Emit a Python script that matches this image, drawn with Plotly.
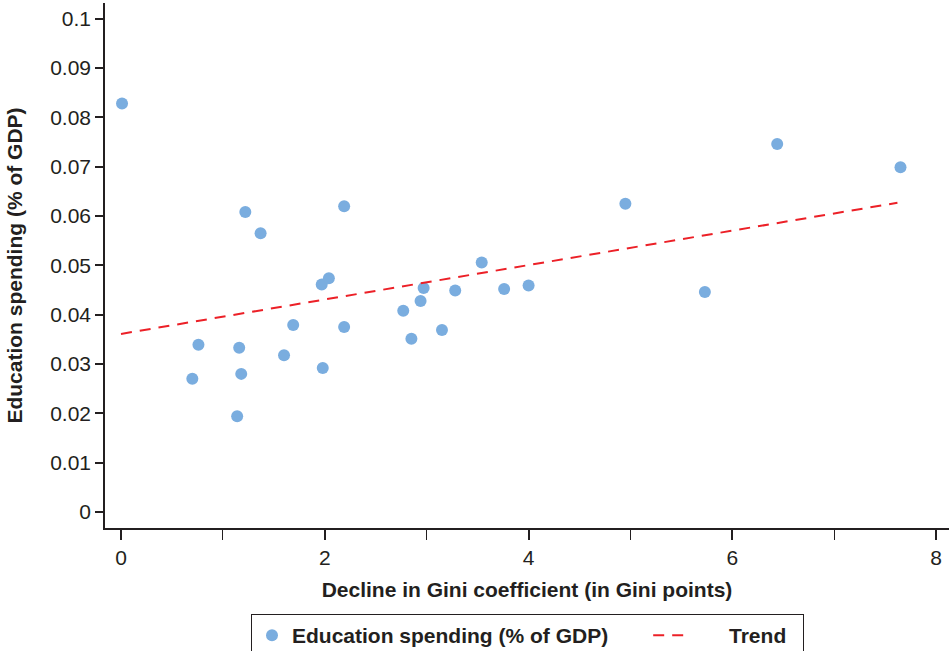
import plotly.graph_objects as go

# 지니계수 하락폭 (x) 과 교육지출 비중 (y)
gini_decline = [0.01, 0.70, 0.76, 1.14, 1.16, 1.18, 1.22, 1.37, 1.60, 1.69,
                1.97, 1.98, 2.04, 2.19, 2.19, 2.77, 2.85, 2.94, 2.97, 3.15,
                3.28, 3.54, 3.76, 4.00, 4.95, 5.73, 6.44, 7.65]
edu_spending = [0.0828, 0.0270, 0.0339, 0.0194, 0.0333, 0.0280, 0.0608, 0.0565,
                0.0318, 0.0379, 0.0461, 0.0292, 0.0474, 0.0620, 0.0375, 0.0408,
                0.0351, 0.0428, 0.0454, 0.0369, 0.0449, 0.0506, 0.0452, 0.0459,
                0.0625, 0.0446, 0.0746, 0.0699]

# 추세선 양 끝점
trend_x = [0.0, 7.62]
trend_y = [0.0361, 0.0627]

x_ticks = [0, 2, 4, 6, 8]
y_ticks = [0, 0.01, 0.02, 0.03, 0.04, 0.05, 0.06, 0.07, 0.08, 0.09, 0.1]
y_ticktext = ['0', '0.01', '0.02', '0.03', '0.04', '0.05', '0.06', '0.07', '0.08', '0.09', '0.1']

font_family = 'Liberation Sans, Arial, sans-serif'
text_color = '#231f20'
nbsp = '\u00a0'

fig = go.Figure()

fig.add_trace(go.Scatter(
    x=gini_decline,
    y=edu_spending,
    mode='markers',
    marker=dict(color='#7aaddf', size=12, line=dict(width=0)),
    name='<b>Education spending (% of GDP)</b>' + nbsp * 6
))

fig.add_trace(go.Scatter(
    x=trend_x,
    y=trend_y,
    mode='lines',
    line=dict(color='#ec2027', width=2, dash='11px,8px'),
    name=nbsp * 7 + '<b>Trend</b>' + nbsp * 2
))

fig.update_layout(
    width=949,
    height=651,
    margin=dict(l=105, r=0, t=3, b=123),
    plot_bgcolor='white',
    paper_bgcolor='white',
    font=dict(family=font_family, size=21, color=text_color),
    showlegend=True,
    legend=dict(
        orientation='h',
        xref='container', x=251 / 949, xanchor='left',
        yref='container', y=1 - 614 / 651, yanchor='top',
        bordercolor='#231f20', borderwidth=1,
        font=dict(size=21, color=text_color),
        itemwidth=30,
        tracegroupgap=0,
    ),
)

fig.update_xaxes(
    range=[-0.157, 8.126],
    tickvals=x_ticks,
    ticks='outside', ticklen=10, tickwidth=1.5, tickcolor='#231f20',
    minor=dict(dtick=1, ticks='outside', ticklen=10, tickwidth=1, tickcolor='#231f20'),
    showline=True, linecolor='#231f20', linewidth=1.5,
    showgrid=False, zeroline=False,
    tickfont=dict(size=21),
    title=dict(text='<b>Decline in Gini coefficient (in Gini points)</b>',
               font=dict(size=21), standoff=14),
)

fig.update_yaxes(
    range=[-0.00325, 0.1032],
    tickvals=y_ticks, ticktext=y_ticktext,
    ticks='outside', ticklen=8, tickwidth=1.5, tickcolor='#231f20',
    showline=True, linecolor='#231f20', linewidth=1.5,
    showgrid=False, zeroline=False,
    tickfont=dict(size=21),
    title=dict(text='<b>Education spending (% of GDP)</b>',
               font=dict(size=21), standoff=22),
)

# 페이지 기본 여백 제거, 모드바 숨김
fig.write_html('out.html', config={'displayModeBar': False},
               post_script="document.body.style.margin='0';")
